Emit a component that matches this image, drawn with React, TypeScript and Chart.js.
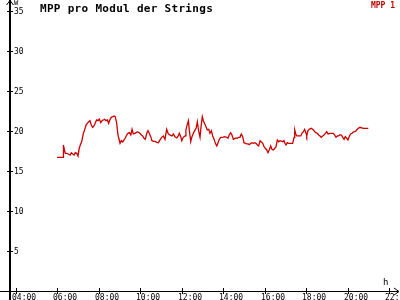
import React, { useEffect, useRef } from "react";
import { Chart, registerables } from "chart.js";

Chart.register(...registerables);

const title = "MPP pro Modul der Strings";
const seriesName = "MPP 1";
const yUnit = "W";
const xUnit = "h";
const yTicks = [5, 10, 15, 20, 25, 30, 35];
const xTicks = [4, 6, 8, 10, 12, 14, 16, 18, 20, 22];
const xTickLabels = ["04:00", "06:00", "08:00", "10:00", "12:00", "14:00", "16:00", "18:00", "20:00", "22:00"];

const hours = [
  5.98, 6.28, 6.29, 6.33, 6.38, 6.45, 6.52, 6.61, 6.67, 6.74, 6.80, 6.86, 6.93, 6.99,
  7.05, 7.12, 7.17, 7.25, 7.32, 7.38, 7.44, 7.51, 7.57, 7.63, 7.70, 7.76, 7.83, 7.89, 7.96,
  8.02, 8.09, 8.15, 8.21, 8.28, 8.34, 8.41, 8.47, 8.54, 8.60, 8.67, 8.73, 8.79, 8.86, 8.91, 8.96,
  9.02, 9.08, 9.15, 9.21, 9.27, 9.34, 9.40, 9.47, 9.54, 9.60, 9.66, 9.73, 9.79, 9.85, 9.92, 9.98,
  10.05, 10.11, 10.18, 10.24, 10.31, 10.37, 10.43, 10.50, 10.56, 10.63, 10.71, 10.79, 10.87, 10.95,
  11.03, 11.11, 11.19, 11.27, 11.34, 11.40, 11.47, 11.53, 11.59, 11.67, 11.76, 11.83, 11.88, 11.95,
  12.0, 12.07, 12.16, 12.20, 12.27, 12.32, 12.36, 12.43, 12.49, 12.56, 12.62, 12.69, 12.75, 12.82, 12.88, 12.93, 12.99,
  13.04, 13.11, 13.17, 13.23, 13.30, 13.36, 13.43, 13.49, 13.56, 13.62, 13.69, 13.75, 13.81, 13.88, 13.98,
  14.07, 14.17, 14.23, 14.29, 14.36, 14.42, 14.49, 14.55, 14.62, 14.68, 14.75, 14.81, 14.87, 14.94,
  15.0, 15.07, 15.13, 15.20, 15.26, 15.33, 15.39, 15.45, 15.52, 15.58, 15.65, 15.71, 15.78, 15.84, 15.91, 15.97,
  16.03, 16.10, 16.16, 16.22, 16.29, 16.35, 16.42, 16.49, 16.55, 16.61, 16.68, 16.74, 16.87, 16.93, 16.98,
  17.03, 17.09, 17.16, 17.26, 17.35, 17.42, 17.45, 17.50, 17.55, 17.64, 17.74, 17.80, 17.87, 17.93,
  18.0, 18.03, 18.09, 18.15, 18.25, 18.35, 18.42, 18.48, 18.54, 18.61, 18.67, 18.73, 18.80, 18.86, 18.93, 18.99,
  19.06, 19.15, 19.25, 19.31, 19.38, 19.44, 19.51, 19.57, 19.64, 19.70, 19.77, 19.83, 19.89, 19.96,
  20.02, 20.09, 20.15, 20.22, 20.28, 20.35, 20.41, 20.47, 20.54, 20.60, 20.76, 21.0,
];

const mppValues = [
  16.7, 16.7, 18.25, 17.71, 17.21, 17.21, 17.13, 17.0, 17.29, 17.13, 17.0, 17.29, 17.21, 16.88,
  17.84, 18.38, 18.66, 19.71, 20.21, 20.75, 20.96, 21.16, 21.29, 20.75, 20.46, 20.63, 21.04, 21.38, 21.29,
  21.5, 21.04, 21.29, 21.38, 21.46, 21.29, 21.38, 20.96, 21.46, 21.71, 21.79, 21.88, 21.79, 20.96, 19.71, 19.09,
  18.46, 18.79, 18.63, 18.88, 19.09, 19.5, 19.71, 19.79, 19.5, 20.21, 19.63, 19.71, 19.79, 19.88, 19.84, 19.71,
  19.5, 19.38, 19.09, 18.96, 19.71, 20.04, 19.71, 19.29, 18.79, 18.71, 18.71, 18.59, 18.54, 18.88,
  19.21, 19.38, 18.96, 20.21, 19.71, 19.54, 19.46, 19.38, 19.63, 19.29, 19.13, 19.38, 19.71, 19.29,
  18.79, 19.21, 19.38, 20.13, 20.88, 21.29, 20.21, 18.66, 19.29, 19.71, 20.04, 20.34, 21.16, 19.91, 19.21, 20.54, 21.79,
  21.29, 20.88, 20.54, 20.13, 20.21, 19.71, 20.04, 19.38, 18.96, 18.46, 18.13, 18.54, 18.96, 19.21, 19.21,
  19.29, 19.21, 19.09, 19.5, 19.79, 19.5, 18.96, 19.04, 19.13, 19.09, 19.21, 19.21, 19.63, 19.29,
  18.54, 18.46, 18.38, 18.38, 18.29, 18.46, 18.54, 18.46, 18.54, 18.46, 18.25, 18.13, 18.79, 18.63, 18.46, 18.04,
  17.84, 17.63, 17.29, 17.63, 18.13, 17.71, 17.63, 17.84, 18.04, 18.88, 18.66, 18.79, 18.66, 18.79, 18.46,
  18.25, 18.54, 18.46, 18.46, 18.46, 19.21, 20.13, 19.63, 19.38, 19.38, 19.38, 19.71, 19.91, 20.21,
  19.71, 19.38, 20.04, 20.21, 20.34, 20.13, 19.91, 19.79, 19.71, 19.5, 19.38, 19.21, 19.38, 19.5, 19.71, 19.91,
  19.63, 19.71, 19.71, 19.71, 19.5, 19.21, 19.38, 19.38, 19.54, 19.5, 19.21, 18.96, 19.29, 19.09,
  18.88, 19.38, 19.63, 19.71, 19.88, 19.91, 20.04, 20.21, 20.38, 20.46, 20.34, 20.34,
];

const MONO = '"DejaVu Sans Mono", "Liberation Mono", monospace';

const axesPlugin = {
  id: "customAxes",
  afterDraw(chart: any) {
    const ctx = chart.ctx as CanvasRenderingContext2D;
    const xs = chart.scales.x;
    const ys = chart.scales.y;
    const ax = Math.round(xs.getPixelForValue(xs.min));
    const ay = Math.round(ys.getPixelForValue(0));
    ctx.save();
    ctx.strokeStyle = "#000";
    ctx.fillStyle = "#000";
    ctx.fillRect(ax - 1, 0, 2, 300);
    ctx.fillRect(0, ay, 398, 1);
    ctx.lineWidth = 1;
    ctx.beginPath();
    ctx.moveTo(ax - 3.5, 5);
    ctx.lineTo(ax, 0.5);
    ctx.lineTo(ax + 3.5, 5);
    ctx.stroke();
    ctx.beginPath();
    ctx.moveTo(394, ay - 3);
    ctx.lineTo(399, ay + 0.5);
    ctx.lineTo(394, ay + 4);
    ctx.stroke();

    ctx.font = `8px ${MONO}`;
    ctx.textAlign = "left";
    ctx.textBaseline = "middle";
    yTicks.forEach((v) => {
      const py = Math.round(ys.getPixelForValue(v));
      ctx.fillRect(ax - 3, py, 6, 1);
      ctx.fillText(String(v), ax + 4, py + 1);
    });
    ctx.textBaseline = "alphabetic";
    xTicks.forEach((v, i) => {
      const px = Math.round(xs.getPixelForValue(v));
      ctx.fillRect(px, ay - 3, 1, 6);
      ctx.fillText(xTickLabels[i], px - 4, 300);
    });
    ctx.font = `7px ${MONO}`;
    ctx.textBaseline = "top";
    ctx.fillText(yUnit, ax + 4, 0);
    ctx.font = `9px ${MONO}`;
    ctx.textBaseline = "alphabetic";
    ctx.fillText(xUnit, 383, 285);

    ctx.font = `bold 11px ${MONO}`;
    (ctx as any).letterSpacing = "0.3px";
    ctx.textBaseline = "alphabetic";
    ctx.textAlign = "left";
    ctx.fillText(title, 40, 12);
    (ctx as any).letterSpacing = "0px";

    ctx.font = `bold 8px ${MONO}`;
    ctx.fillStyle = "#c00000";
    ctx.textAlign = "right";
    ctx.fillText(seriesName, 395, 8);
    ctx.restore();
  },
};

export default function App() {
  const ref = useRef<HTMLCanvasElement | null>(null);
  useEffect(() => {
    document.body.style.margin = "0";
    const canvas = ref.current;
    if (!canvas) return;
    const points = hours.map((h, i) => ({ x: h, y: mppValues[i] }));
    const chart = new Chart(canvas, {
      type: "line",
      data: {
        datasets: [
          {
            label: seriesName,
            data: points,
            borderColor: "#cc0000",
            backgroundColor: "#cc0000",
            borderWidth: 1.3,
            pointRadius: 0,
            tension: 0,
            fill: false,
          },
        ],
      },
      options: {
        responsive: false,
        animation: false,
        layout: { padding: { left: 10, right: 3, top: 3, bottom: 9 } },
        plugins: { legend: { display: false }, title: { display: false }, tooltip: { enabled: false } },
        scales: {
          x: { type: "linear", min: 3.71, max: 22.386, display: false },
          y: { type: "linear", min: 0, max: 36, display: false },
        },
      },
      plugins: [axesPlugin],
    });
    return () => chart.destroy();
  }, []);
  return (
    <div style={{ position: "absolute", left: 0, top: 0, width: 400, height: 300, background: "#fff" }}>
      <canvas ref={ref} width={400} height={300} style={{ display: "block", width: 400, height: 300 }} />
    </div>
  );
}
